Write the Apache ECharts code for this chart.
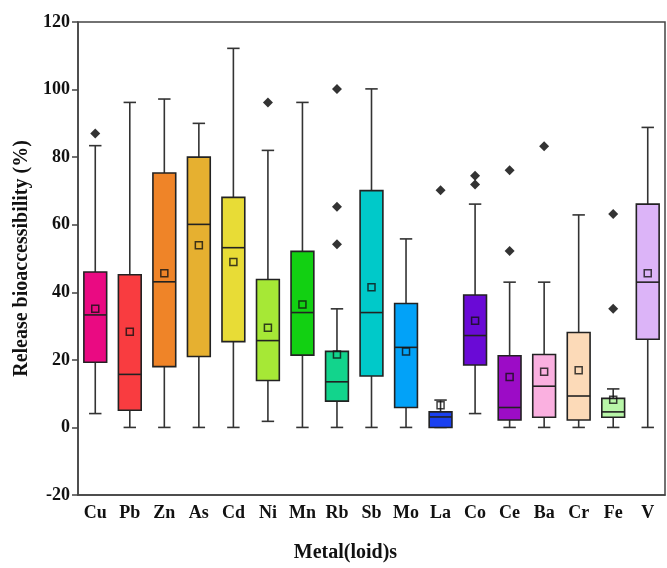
<!DOCTYPE html>
<html>
<head>
<meta charset="utf-8">
<script src="https://cdn.jsdelivr.net/npm/echarts@6/dist/echarts.min.js"></script>
<style>
html, body { margin: 0; padding: 0; background: #fff; }
#box-chart { width: 667px; height: 568px; }
</style>
</head>
<body>
<div id="box-chart"></div>
<script>
// metals on the x axis
const metals = ['Cu', 'Pb', 'Zn', 'As', 'Cd', 'Ni', 'Mn', 'Rb', 'Sb', 'Mo', 'La', 'Co', 'Ce', 'Ba', 'Cr', 'Fe', 'V']
// box plot stats (%)
const whiskerLow = [4.1, 0, 0, 0, 0, 1.8, 0, 0, 0, 0, 0, 4.1, 0, 0, 0, 0, 0]
const quart1 = [19.3, 5.1, 18, 21, 25.4, 13.9, 21.4, 7.8, 15.2, 5.9, 0, 18.5, 2.2, 3, 2.2, 3, 26.1]
const medians = [33.3, 15.7, 43.1, 60.1, 53.2, 25.7, 34, 13.5, 34, 23.7, 3.1, 27.2, 5.9, 12.2, 9.3, 4.6, 43]
const quart3 = [46, 45.2, 75.3, 80, 68.1, 43.8, 52.1, 22.5, 70.1, 36.7, 4.6, 39.2, 21.2, 21.6, 28.1, 8.6, 66.1]
const whiskerHigh = [83.4, 96.2, 97.2, 90, 112.2, 82, 96.2, 35.1, 100.2, 55.8, 8.1, 66.1, 43, 43, 62.9, 11.4, 88.8]
const means = [35.1, 28.3, 45.6, 53.9, 49, 29.5, 36.4, 21.6, 41.5, 22.5, 6.6, 31.6, 14.9, 16.5, 16.9, 8.2, 45.6]
// outliers as [metal index, value]
const outliers = [
    [0, 87], [5, 96.2], [7, 100.2], [7, 65.3], [7, 54.2], [10, 70.2],
    [11, 74.5], [11, 71.9], [12, 76.1], [12, 52.2], [13, 83.2], [15, 63.2], [15, 35.1]
]
const yTicks = [-20, 0, 20, 40, 60, 80, 100, 120]

const boxColors = ['#ea0a82', '#f93c40', '#ef8428', '#e6b030', '#e8dc36', '#a6e836', '#12d012', '#12d48c',
    '#00c9c9', '#02a2f8', '#1a40f0', '#6a0ad6', '#9c0cc6', '#fab0e0', '#fcdab8', '#b8f6a8', '#dcb4f8']

const serif = '"Liberation Serif", "Times New Roman", serif'

let boxData = metals.map((m, i) => [i, whiskerLow[i], quart1[i], medians[i], quart3[i], whiskerHigh[i]])

function renderBox(params, api) {
    let idx = api.value(0)
    let x = api.coord([idx, 0])[0]
    let band = api.size([1, 0])[0]
    let bw = band * 0.66
    let cap = band * 0.36
    let yLo = api.coord([idx, api.value(1)])[1]
    let yQ1 = api.coord([idx, api.value(2)])[1]
    let yMed = api.coord([idx, api.value(3)])[1]
    let yQ3 = api.coord([idx, api.value(4)])[1]
    let yHi = api.coord([idx, api.value(5)])[1]
    let lineStyle = { stroke: '#333', lineWidth: 1.6 }
    return {
        type: 'group',
        children: [
            { type: 'line', shape: { x1: x, y1: yHi, x2: x, y2: yQ3 }, style: lineStyle },
            { type: 'line', shape: { x1: x, y1: yQ1, x2: x, y2: yLo }, style: lineStyle },
            { type: 'line', shape: { x1: x - cap / 2, y1: yHi, x2: x + cap / 2, y2: yHi }, style: lineStyle },
            { type: 'line', shape: { x1: x - cap / 2, y1: yLo, x2: x + cap / 2, y2: yLo }, style: lineStyle },
            {
                type: 'rect',
                shape: { x: x - bw / 2, y: yQ3, width: bw, height: yQ1 - yQ3 },
                style: { fill: boxColors[params.dataIndex], stroke: '#222', lineWidth: 1.6 }
            },
            { type: 'line', shape: { x1: x - bw / 2, y1: yMed, x2: x + bw / 2, y2: yMed }, style: { stroke: '#222', lineWidth: 1.6 } }
        ]
    }
}

let option = {
    animation: false,
    grid: {
        left: 78,
        right: 2,
        top: 22,
        bottom: 72,
        show: true,
        borderColor: '#444',
        borderWidth: 1.5
    },
    xAxis: {
        type: 'category',
        data: metals,
        boundaryGap: true,
        name: 'Metal(loid)s',
        nameLocation: 'middle',
        nameGap: 48,
        nameTextStyle: {
            fontFamily: serif,
            fontWeight: 'bold',
            fontSize: 20,
            color: '#111',
            padding: [0, 52, 0, 0]
        },
        axisLine: { onZero: false, lineStyle: { color: '#444', width: 1.5 } },
        axisTick: { alignWithLabel: true, interval: 0, length: 6, lineStyle: { color: '#444', width: 1.5 } },
        axisLabel: {
            interval: 0,
            fontFamily: serif,
            fontWeight: 'bold',
            fontSize: 18,
            color: '#111',
            margin: 9
        },
        splitLine: { show: false }
    },
    yAxis: {
        type: 'value',
        min: -20,
        max: 120,
        interval: 20,
        name: 'Release bioaccessibility (%)',
        nameLocation: 'middle',
        nameGap: 46,
        nameTextStyle: {
            fontFamily: serif,
            fontWeight: 'bold',
            fontSize: 20,
            color: '#111'
        },
        axisLine: { show: true, lineStyle: { color: '#444', width: 1.5 } },
        axisTick: { show: true, length: 6, lineStyle: { color: '#444', width: 1.5 } },
        axisLabel: {
            fontFamily: serif,
            fontWeight: 'bold',
            fontSize: 18,
            color: '#111',
            margin: 8,
            formatter: v => yTicks.includes(v) ? String(v) : ''
        },
        splitLine: { show: false }
    },
    series: [
        {
            type: 'custom',
            renderItem: renderBox,
            encode: { x: 0, y: [1, 2, 3, 4, 5] },
            data: boxData,
            z: 2
        },
        {
            type: 'scatter',
            data: means.map((v, i) => [i, v]),
            symbol: 'rect',
            symbolSize: 7,
            itemStyle: { color: 'rgba(0,0,0,0)', borderColor: '#111', borderWidth: 1.5 },
            z: 4
        },
        {
            type: 'scatter',
            data: outliers,
            symbol: 'diamond',
            symbolSize: 10,
            itemStyle: { color: '#000' },
            z: 4
        }
    ]
}

let chart = echarts.init(document.getElementById('box-chart'))
chart.setOption(option)
</script>
</body>
</html>
